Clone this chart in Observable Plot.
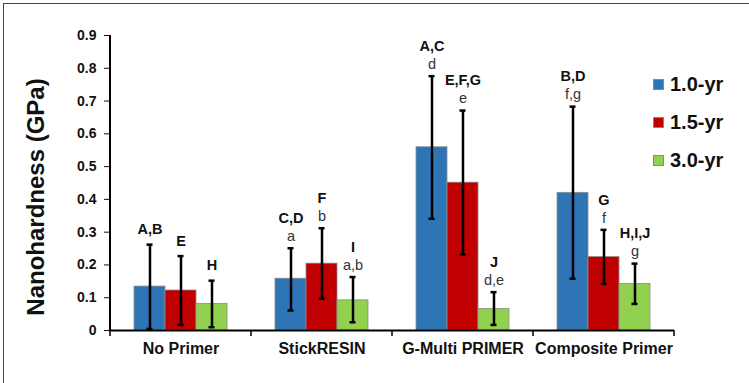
<!DOCTYPE html>
<html>
<head>
<meta charset="utf-8">
<script src="https://cdn.jsdelivr.net/npm/d3@7"></script>
<script src="https://cdn.jsdelivr.net/npm/@observablehq/plot@0.6"></script>
<style>
  body { margin: 0; background: #fff; }
  #wrap { position: relative; width: 749px; height: 383px; overflow: hidden; font-family: "Liberation Sans", Arial, sans-serif; }
  #border { position: absolute; left: 3px; top: 3px; width: 760px; height: 400px; border-left: 1.5px solid #444; border-top: 1.5px solid #444; box-sizing: border-box; }
  #ylabel { position: absolute; left: 36px; top: 197px; transform: translate(-50%, -50%) rotate(-90deg); font-weight: bold; font-size: 24px; white-space: nowrap; color: #111; }
  #legend { position: absolute; left: 653px; top: 65px; }
  .li { display: flex; align-items: center; height: 38px; font-weight: bold; font-size: 20px; color: #111; }
  .sw { width: 9px; height: 9px; border: 1px solid #888; margin-right: 6px; }
  svg [aria-label="y-axis tick label"], svg [aria-label="y-axis tick label"] text { font-weight: bold !important; font-size: 14px !important; }
  svg [aria-label="fx-axis tick label"], svg [aria-label="fx-axis tick label"] text { font-weight: bold !important; font-size: 16px !important; }
</style>
</head>
<body>
<div id="wrap">
  <div id="chart"></div>
  <div id="border"></div>
  <div id="ylabel">Nanohardness (GPa)</div>
  <div id="legend"></div>
</div>
<script>
const categories = ["No Primer", "StickRESIN", "G-Multi PRIMER", "Composite Primer"];
const series = ["1.0-yr", "1.5-yr", "3.0-yr"];
const colors = ["#2E75B6", "#C00000", "#92D050"];
const yTicks = [0, 0.1, 0.2, 0.3, 0.4, 0.5, 0.6, 0.7, 0.8, 0.9];

// means per category, one array per series
const mean10 = [0.134, 0.158, 0.559, 0.420];
const mean15 = [0.122, 0.204, 0.451, 0.224];
const mean30 = [0.081, 0.092, 0.066, 0.142];
// error bar low / high
const lo10 = [0.005, 0.061, 0.341, 0.158];
const hi10 = [0.262, 0.251, 0.776, 0.683];
const lo15 = [0.017, 0.097, 0.232, 0.142];
const hi15 = [0.227, 0.312, 0.671, 0.307];
const lo30 = [0.010, 0.025, 0.017, 0.081];
const hi30 = [0.152, 0.163, 0.117, 0.204];
// significance letters
const upper10 = ["A,B", "C,D", "A,C", "B,D"];
const upper15 = ["E", "F", "E,F,G", "G"];
const upper30 = ["H", "I", "J", "H,I,J"];
const lower10 = ["", "a", "d", "f,g"];
const lower15 = ["", "b", "e", "f"];
const lower30 = ["", "a,b", "d,e", "g"];

const means = [mean10, mean15, mean30];
const los = [lo10, lo15, lo30];
const his = [hi10, hi15, hi30];
const uppers = [upper10, upper15, upper30];
const lowers = [lower10, lower15, lower30];

const rows = [];
categories.forEach((c, ci) => {
  series.forEach((s, si) => {
    rows.push({
      cat: c, series: s,
      mean: means[si][ci], lo: los[si][ci], hi: his[si][ci],
      upper: uppers[si][ci], lower: lowers[si][ci]
    });
  });
});
const withLower = rows.filter(d => d.lower !== "");
const withoutLower = rows.filter(d => d.lower === "");

const chart = Plot.plot({
  width: 749,
  height: 383,
  marginLeft: 110,
  marginRight: 75,
  marginTop: 35,
  marginBottom: 53,
  style: { fontFamily: "'Liberation Sans', Arial, sans-serif", background: "transparent", color: "#111" },
  fx: { domain: categories, paddingInner: 0, paddingOuter: 0, label: null, axis: null },
  x: { domain: series, paddingInner: 0, paddingOuter: 0.77, axis: null },
  y: { domain: [0, 0.9], label: null, axis: null },
  color: { domain: series, range: colors },
  marks: [
    Plot.axisY({ ticks: yTicks, tickSize: 6, tickPadding: 8, fontSize: 14, fontWeight: "bold", tickFormat: d => d === 0 ? "0" : d.toFixed(1), label: null }),
    Plot.axisFx({ anchor: "bottom", tickSize: 0, tickPadding: 12, fontSize: 16, fontWeight: "bold", label: null }),
    Plot.barY(rows, { fx: "cat", x: "series", y: "mean", fill: "series", stroke: "#8c8c8c", strokeWidth: 0.8 }),
    Plot.ruleX(rows, { fx: "cat", x: "series", y1: "lo", y2: "hi", stroke: "#000", strokeWidth: 2.5 }),
    Plot.tickY(rows, { fx: "cat", x: "series", y: "hi", stroke: "#000", strokeWidth: 2.5, insetLeft: 12.5, insetRight: 12.5 }),
    Plot.tickY(rows, { fx: "cat", x: "series", y: "lo", stroke: "#000", strokeWidth: 2.5, insetLeft: 12.5, insetRight: 12.5 }),
    Plot.ruleY([0], { stroke: "#000", strokeWidth: 2 }),
    Plot.text(withLower, { fx: "cat", x: "series", y: "hi", text: "lower", dy: -12, fontSize: 14.5, fill: "#333" }),
    Plot.text(withLower, { fx: "cat", x: "series", y: "hi", text: "upper", dy: -30, fontSize: 14.5, fontWeight: "bold", fill: "#111" }),
    Plot.text(withoutLower, { fx: "cat", x: "series", y: "hi", text: "upper", dy: -15, fontSize: 14.5, fontWeight: "bold", fill: "#111" })
  ]
});
document.getElementById("chart").appendChild(chart);

// axis line and category boundary ticks, placed through the chart's own scales
const fxS = chart.scale("fx");
const yS = chart.scale("y");
const svg = d3.select(chart);
const y0 = yS.apply(0);
const yTop = yS.apply(0.9);
const xLeft = fxS.apply(categories[0]);
const bw = fxS.bandwidth;
const g = svg.append("g").attr("stroke", "#000");
g.append("line").attr("x1", xLeft).attr("x2", xLeft).attr("y1", yTop).attr("y2", y0 + 1).attr("stroke-width", 2);
const bounds = categories.map(c => fxS.apply(c)).concat([fxS.apply(categories[categories.length - 1]) + bw]);
bounds.forEach(b => {
  g.append("line").attr("x1", b).attr("x2", b).attr("y1", y0).attr("y2", y0 + 6).attr("stroke-width", 1.5);
});

// legend
const leg = d3.select("#legend");
series.forEach((s, i) => {
  const row = leg.append("div").attr("class", "li");
  row.append("div").attr("class", "sw").style("background", colors[i]);
  row.append("span").text(s);
});
</script>
</body>
</html>
